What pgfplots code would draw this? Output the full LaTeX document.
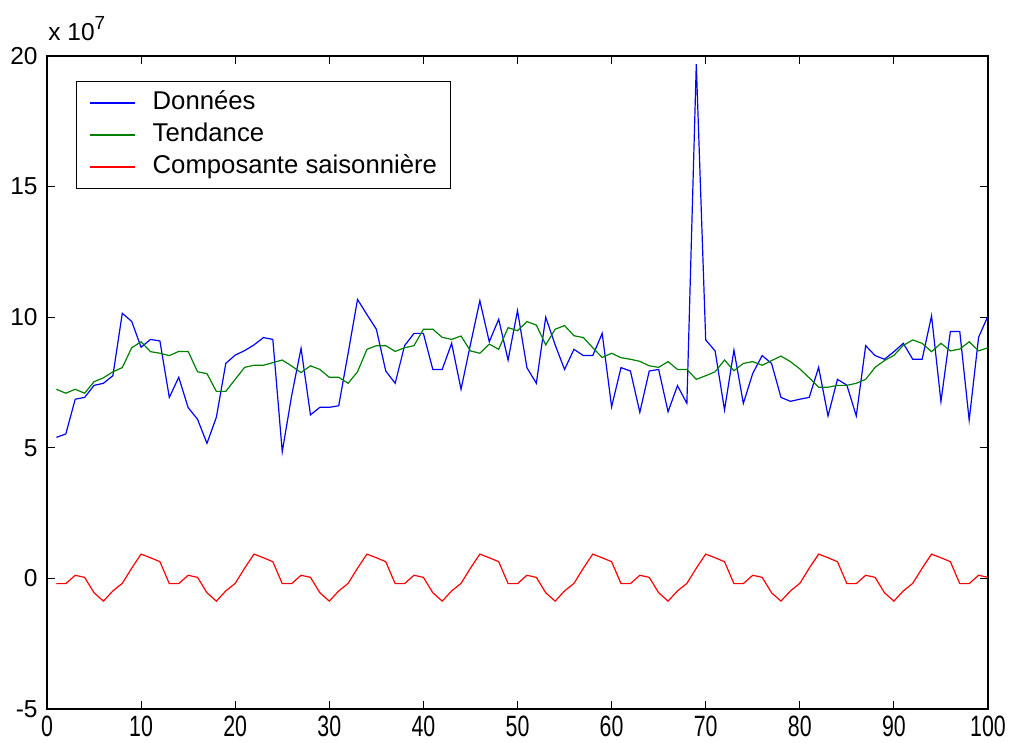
\documentclass[border=0pt]{standalone}
\usepackage{pgfplots}
\pgfplotsset{compat=1.18}
\usepackage{fontspec}
\setmainfont{Liberation Sans}

\definecolor{mblue}{RGB}{0,0,255}
\definecolor{mgreen}{RGB}{0,128,0}
\definecolor{mred}{RGB}{255,0,0}
\newcommand{\legfont}{\fontsize{12.9}{14}\selectfont}

% Série observée (en unités de 10^7)
\pgfplotstableread{
x y
1 5.40
2 5.53
3 6.86
4 6.93
5 7.39
6 7.47
7 7.76
8 10.15
9 9.84
10 8.85
11 9.15
12 9.09
13 6.93
14 7.70
15 6.54
16 6.09
17 5.17
18 6.17
19 8.23
20 8.55
21 8.72
22 8.94
23 9.22
24 9.15
25 4.85
26 7.00
27 8.81
28 6.26
29 6.55
30 6.55
31 6.61
32 8.62
33 10.68
34 10.10
35 9.54
36 7.94
37 7.47
38 8.91
39 9.38
40 9.38
41 8.00
42 8.00
43 9.00
44 7.24
45 8.96
46 10.63
47 9.06
48 9.92
49 8.36
50 10.25
51 8.07
52 7.47
53 10.00
54 8.94
55 8.00
56 8.77
57 8.53
58 8.53
59 9.38
60 6.57
61 8.07
62 7.94
63 6.36
64 7.94
65 8.00
66 6.38
67 7.38
68 6.70
69 19.69
70 9.13
71 8.71
72 6.45
73 8.74
74 6.70
75 7.85
76 8.53
77 8.23
78 6.93
79 6.78
80 6.86
81 6.93
82 8.08
83 6.22
84 7.62
85 7.40
86 6.22
87 8.91
88 8.53
89 8.39
90 8.68
91 9.00
92 8.39
93 8.39
94 10.05
95 6.77
96 9.45
97 9.45
98 6.06
99 9.23
100 10.05
}\donnees

% Tendance
\pgfplotstableread{
x y
1 7.24
2 7.09
3 7.24
4 7.09
5 7.53
6 7.68
7 7.91
8 8.07
9 8.83
10 9.06
11 8.68
12 8.62
13 8.53
14 8.69
15 8.69
16 7.91
17 7.84
18 7.16
19 7.16
20 7.62
21 8.08
22 8.16
23 8.16
24 8.26
25 8.36
26 8.13
27 7.88
28 8.14
29 8.00
30 7.70
31 7.70
32 7.47
33 7.91
34 8.77
35 8.91
36 8.91
37 8.69
38 8.83
39 8.91
40 9.54
41 9.54
42 9.23
43 9.15
44 9.28
45 8.71
46 8.62
47 8.97
48 8.77
49 9.60
50 9.48
51 9.83
52 9.70
53 8.94
54 9.54
55 9.68
56 9.29
57 9.22
58 8.83
59 8.46
60 8.62
61 8.45
62 8.39
63 8.31
64 8.14
65 8.08
66 8.30
67 8.00
68 8.00
69 7.62
70 7.76
71 7.91
72 8.36
73 7.95
74 8.23
75 8.30
76 8.16
77 8.34
78 8.51
79 8.30
80 8.02
81 7.68
82 7.32
83 7.32
84 7.39
85 7.39
86 7.47
87 7.62
88 8.08
89 8.34
90 8.54
91 8.92
92 9.13
93 9.00
94 8.68
95 9.00
96 8.71
97 8.78
98 9.06
99 8.71
100 8.83
}\tendance

% Composante saisonnière (période 12)
\pgfplotstableread{
x y
1 -0.20
2 -0.20
3 0.12
4 0.04
5 -0.55
6 -0.87
7 -0.48
8 -0.19
9 0.39
10 0.93
11 0.79
12 0.64
13 -0.20
14 -0.20
15 0.12
16 0.04
17 -0.55
18 -0.87
19 -0.48
20 -0.19
21 0.39
22 0.93
23 0.79
24 0.64
25 -0.20
26 -0.20
27 0.12
28 0.04
29 -0.55
30 -0.87
31 -0.48
32 -0.19
33 0.39
34 0.93
35 0.79
36 0.64
37 -0.20
38 -0.20
39 0.12
40 0.04
41 -0.55
42 -0.87
43 -0.48
44 -0.19
45 0.39
46 0.93
47 0.79
48 0.64
49 -0.20
50 -0.20
51 0.12
52 0.04
53 -0.55
54 -0.87
55 -0.48
56 -0.19
57 0.39
58 0.93
59 0.79
60 0.64
61 -0.20
62 -0.20
63 0.12
64 0.04
65 -0.55
66 -0.87
67 -0.48
68 -0.19
69 0.39
70 0.93
71 0.79
72 0.64
73 -0.20
74 -0.20
75 0.12
76 0.04
77 -0.55
78 -0.87
79 -0.48
80 -0.19
81 0.39
82 0.93
83 0.79
84 0.64
85 -0.20
86 -0.20
87 0.12
88 0.04
89 -0.55
90 -0.87
91 -0.48
92 -0.19
93 0.39
94 0.93
95 0.79
96 0.64
97 -0.20
98 -0.20
99 0.12
100 0.04
}\saison

\begin{document}
\begin{tikzpicture}[font=\fontsize{12.3}{14}\selectfont]
\begin{axis}[
  scale only axis,
  width=470.5bp, height=326.5bp,
  xmin=0, xmax=100, ymin=-5, ymax=20,
  xtick={0,10,...,100},
  ytick={-5,0,5,10,15,20},
  tick align=inside,
  major tick length=4bp,
  axis line style={line width=0.6bp},
  every tick/.style={black, line width=0.5bp},
  /pgf/number format/assume math mode=true,
  xticklabel={\scalebox{0.87}[1.2]{\pgfmathprintnumber{\tick}}},
  xticklabel style={inner sep=0pt, yshift=-3.5bp},
  yticklabel style={inner sep=0pt, xshift=-4.5bp},
  legend cell align=left,
  legend image code/.code={\draw[#1] (0bp,0bp) -- (22.5bp,0bp);},
  legend style={
    at={(0.0308,0.9617)}, anchor=north west,
    draw=black, line width=0.5bp,
    inner xsep=6.5bp, inner ysep=4.75bp,
    row sep=4bp,
    nodes={inner sep=0pt, text height=9bp, text depth=3bp},
    /tikz/every odd column/.append style={column sep=8.5bp},
  },
]
\addplot[mblue, line width=0.6bp] table[x=x,y=y] {\donnees};
\addlegendentry{\legfont Données}
\addplot[mgreen, line width=0.6bp] table[x=x,y=y] {\tendance};
\addlegendentry{\legfont Tendance}
\addplot[mred, line width=0.6bp] table[x=x,y=y] {\saison};
\addlegendentry{\legfont Composante saisonnière}

\coordinate (bl) at (rel axis cs:0,0);
\coordinate (tl) at (rel axis cs:0,1);
\coordinate (tr) at (rel axis cs:1,1);
\end{axis}
% facteur d'échelle de l'axe des ordonnées
\node[anchor=base west, inner sep=0pt, yshift=7.5bp, xshift=0.5bp] at (tl)
  {x 10\raisebox{5.5bp}{\fontsize{9.5}{9.5}\selectfont 7}};
\pgfresetboundingbox
\useasboundingbox ([xshift=-23.5bp,yshift=-17bp]bl) rectangle ([xshift=15bp,yshift=28bp]tr);
\end{tikzpicture}
\end{document}
